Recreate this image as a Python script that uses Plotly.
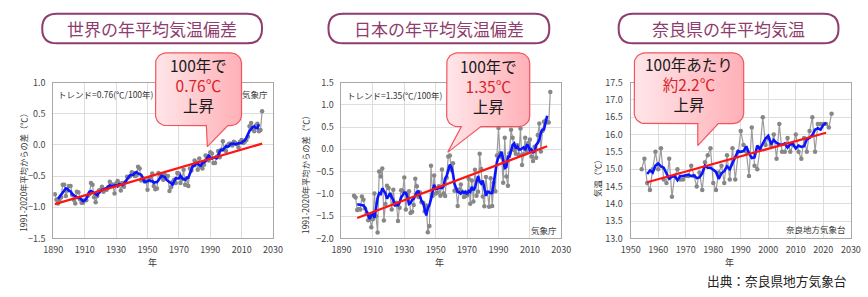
import math
import pandas as pd
import plotly.graph_objects as go

W, H = 868, 297

# ---------------- data ----------------
world_start = 1891
world_anom = [
    -0.79, -0.88, -0.94, -0.88, -0.84, -0.64, -0.64, -0.82, -0.73,            # 1891-1899
    -0.66, -0.66, -0.80, -0.88, -0.94, -0.75, -0.76, -0.87, -0.93, -0.93,     # 1900s
    -0.89, -0.89, -0.82, -0.79, -0.61, -0.64, -0.84, -0.92, -0.82, -0.73,     # 1910s
    -0.72, -0.67, -0.75, -0.72, -0.72, -0.68, -0.59, -0.63, -0.64, -0.78,     # 1920s
    -0.62, -0.58, -0.62, -0.73, -0.61, -0.67, -0.60, -0.51, -0.52, -0.50,     # 1930s
    -0.44, -0.46, -0.50, -0.49, -0.35, -0.38, -0.57, -0.54, -0.55, -0.59,     # 1940s
    -0.72, -0.54, -0.52, -0.46, -0.66, -0.71, -0.70, -0.45, -0.47, -0.51,     # 1950s
    -0.56, -0.48, -0.51, -0.50, -0.74, -0.68, -0.59, -0.56, -0.61, -0.45,     # 1960s
    -0.46, -0.61, -0.55, -0.40, -0.64, -0.54, -0.66, -0.38, -0.41, -0.33,     # 1970s
    -0.25, -0.28, -0.40, -0.22, -0.35, -0.38, -0.32, -0.17, -0.18, -0.25,     # 1980s
    -0.12, -0.14, -0.29, -0.29, -0.19, -0.10, -0.20, -0.08, 0.06, -0.08,      # 1990s
    -0.10, -0.01, 0.02, 0.02, -0.01, 0.05, 0.03, 0.01, -0.04, 0.05,           # 2000s
    0.08, 0.03, 0.05, 0.08, 0.13, 0.30, 0.35, 0.26, 0.22, 0.31,               # 2010s
    0.34, 0.22, 0.24, 0.54,                                                   # 2020s
]
world_trend_years = [1891, 2023]
world_trend = [-0.95, 0.02]

japan_start = 1898
japan_anom = [
    -1.04, -1.08,                                                             # 1898-1899
    -1.36, -1.34, -1.35, -1.06, -1.13, -1.33, -1.43, -1.59, -1.49, -1.75,     # 1900s
    -1.57, -0.99, -1.50, -1.87, -0.50, -0.61, -0.43, -1.60, -1.23, -0.82,     # 1910s
    -0.87, -1.01, -1.35, -0.91, -1.23, -1.20, -1.61, -1.31, -0.92, -0.93,     # 1920s
    -0.63, -1.35, -1.02, -0.94, -1.43, -1.40, -1.25, -0.66, -0.83, -1.07,     # 1930s
    -0.97, -1.19, -1.20, -1.39, -1.26, -1.86, -1.72, -0.37, -1.05, -0.59,     # 1940s
    -0.99, -0.97, -0.83, -1.04, -0.45, -0.99, -1.05, -0.64, -0.16, -0.14,     # 1950s
    -0.47, -0.31, -0.93, -0.91, -1.27, -0.90, -0.79, -0.95, -1.07, -1.05,     # 1960s
    -1.03, -0.66, -1.22, -0.70, -1.17, -0.46, -1.04, -0.95, -0.10, -0.44,     # 1970s
    -1.06, -1.28, -0.62, -0.96, -1.29, -0.65, -1.27, -0.75, -0.94, -0.14,     # 1980s
    0.48, -0.09, -0.18, -0.75, 0.26, -0.61, -0.82, -0.09, 0.44, 0.26,         # 1990s
    -0.02, -0.10, 0.09, -0.12, 0.47, -0.35, -0.11, 0.26, -0.04, 0.14,         # 2000s
    0.22, -0.16, -0.26, 0.06, -0.19, 0.32, 0.58, -0.05, 0.41, 0.62,           # 2010s
    0.65, 0.61, 0.60, 1.29,                                                   # 2020s
]
japan_trend_years = [1900, 2021]
japan_trend = [-1.54, 0.07]

nara_start = 1954
nara_temp = [
    15.0, 15.3, 14.6, 14.4, 15.0, 15.5,                                       # 1954-1959
    15.0, 15.6, 14.7, 14.6, 15.3, 14.2, 14.8, 15.0, 14.7, 14.7,               # 1960s
    14.8, 14.8, 15.1, 14.8, 14.5, 14.9, 14.4, 15.2, 15.4, 15.6,               # 1970s
    14.6, 14.4, 14.9, 15.1, 14.6, 15.4, 14.7, 15.6, 14.7, 15.5,               # 1980s
    16.1, 15.7, 15.5, 14.8, 16.2, 15.1, 15.0, 15.6, 16.5, 15.7,               # 1990s
    15.9, 15.7, 16.0, 15.3, 16.3, 15.5, 15.5, 15.9, 15.5, 15.7,               # 2000s
    16.0, 15.5, 15.3, 15.9, 15.5, 16.1, 16.5, 15.5, 16.3, 16.3,               # 2010s
    16.3, 16.3, 16.2, 16.6,                                                   # 2020s
]
nara_trend_years = [1956, 2021]
nara_trend = [14.62, 16.05]

titles = ["世界の年平均気温偏差", "日本の年平均気温偏差", "奈良県の年平均気温"]
callout_top = ["100年で", "100年で", "100年あたり"]
callout_mid = ["0.76℃", "1.35℃", "約2.2℃"]
callout_bot = ["上昇", "上昇", "上昇"]
trend_notes = ["トレンド=0.76(℃/100年)", "トレンド=1.35(℃/100年)", None]
y_titles = ["1991-2020年平均からの差（℃）", "1991-2020年平均からの差（℃）", "気温（℃）"]
x_title = "年"
credits = ["気象庁", "気象庁", "奈良地方気象台"]
source_text = "出典：奈良県地方気象台"

# ---------------- layout helpers ----------------
FONT = "Noto Sans CJK JP"
PLUM = "#8E3D6E"


def xdom(a, b):
    return [a / W, b / W]


def ydom(top, bottom):
    return [1 - bottom / H, 1 - top / H]


panels = [
    dict(xd=xdom(44.3, 269.3), yd=ydom(79, 242), xr=[1890, 2030], yr=[-1.5, 1.0], xdt=20),
    dict(xd=xdom(339.3, 564.3), yd=ydom(79, 242), xr=[1890, 2030], yr=[-2.0, 1.5], xdt=20),
    dict(xd=xdom(635.3, 860.7), yd=ydom(79, 242), xr=[1950, 2030], yr=[13.0, 17.5], xdt=10),
]

series = [
    (world_start, world_anom, world_trend_years, world_trend),
    (japan_start, japan_anom, japan_trend_years, japan_trend),
    (nara_start, nara_temp, nara_trend_years, nara_trend),
]

fig = go.Figure()

for i, (start, vals, ty, tv) in enumerate(series):
    years = list(range(start, start + len(vals)))
    smooth = pd.Series(vals).rolling(5, center=True).mean()
    xa = "x" if i == 0 else f"x{i+1}"
    ya = "y" if i == 0 else f"y{i+1}"
    fig.add_trace(go.Scatter(
        x=years, y=vals, mode="lines+markers", xaxis=xa, yaxis=ya,
        line=dict(color="#9C9C9C", width=1.2),
        marker=dict(color="#878787", size=4.5), showlegend=False, hoverinfo="skip"))
    fig.add_trace(go.Scatter(
        x=years, y=smooth, mode="lines", xaxis=xa, yaxis=ya,
        line=dict(color="#0A14FF", width=2.6), showlegend=False, hoverinfo="skip"))
    fig.add_trace(go.Scatter(
        x=ty, y=tv, mode="lines", xaxis=xa, yaxis=ya,
        line=dict(color="#FF1414", width=2.2), showlegend=False, hoverinfo="skip"))

axis_common = dict(showline=True, linecolor="#A8A8A8", linewidth=1, mirror=True,
                   showgrid=True, gridcolor="#DDDDDD", gridwidth=1, zeroline=False,
                   ticks="", tickfont=dict(family=FONT, size=9, color="#444444"),
                   fixedrange=True)

lay = {}
for i, p in enumerate(panels):
    sx = "xaxis" if i == 0 else f"xaxis{i+1}"
    sy = "yaxis" if i == 0 else f"yaxis{i+1}"
    anchor_x = "y" if i == 0 else f"y{i+1}"
    anchor_y = "x" if i == 0 else f"x{i+1}"
    lay[sx] = dict(axis_common, domain=p["xd"], range=p["xr"], dtick=p["xdt"],
                   tick0=p["xr"][0], anchor=anchor_x, ticklabelstandoff=3)
    lay[sy] = dict(axis_common, domain=p["yd"], range=p["yr"], dtick=0.5,
                   tickformat=".1f", anchor=anchor_y, ticklabelstandoff=5)

# overlay pixel-coordinate axes for decorations
lay["xaxis4"] = dict(domain=[0, 1], range=[0, W], visible=False, fixedrange=True, anchor="y4")
lay["yaxis4"] = dict(domain=[0, 1], range=[H, 0], visible=False, fixedrange=True, anchor="x4")

fig.update_layout(**lay)


def callout_path(x0, y0, x1, y1, r, bl, tipx, tipy, br):
    xs, ys = [], []

    def arc(cx, cy, a0, a1, n=8):
        for k in range(n + 1):
            t = math.radians(a0 + (a1 - a0) * k / n)
            xs.append(cx + r * math.cos(t))
            ys.append(cy + r * math.sin(t))

    arc(x1 - r, y0 + r, -90, 0)
    arc(x1 - r, y1 - r, 0, 90)
    xs += [br, tipx, bl]
    ys += [y1, tipy, y1]
    arc(x0 + r, y1 - r, 90, 180)
    arc(x0 + r, y0 + r, 180, 270)
    xs.append(xs[0])
    ys.append(ys[0])
    return xs, ys


callouts = [
    (149, 48, 237, 124, 11, 201, 202, 146, 223),
    (447, 48, 532, 125, 11, 462, 448, 152, 482),
    (639, 48, 751, 122, 11, 704, 704, 145, 725),
]
for c in callouts:
    cx, cy = callout_path(*c)
    fig.add_trace(go.Scatter(
        x=cx, y=cy, xaxis="x4", yaxis="y4", mode="lines", fill="toself",
        fillgradient=dict(type="horizontal",
                          colorscale=[[0, "#FFE6E9"], [1, "#FFB0B7"]]),
        line=dict(color="#F2545E", width=1.2), showlegend=False, hoverinfo="skip"))

# title boxes
title_boxes = [(33, 7, 258, 38), (326, 7, 552, 38), (623, 7, 848, 38)]
shapes = []
for (x0, y0, x1, y1) in title_boxes:
    r = 15
    path = (f"M {x0+r},{y0} L {x1-r},{y0} Q {x1},{y0} {x1},{y0+r} "
            f"L {x1},{y1-r} Q {x1},{y1} {x1-r},{y1} L {x0+r},{y1} "
            f"Q {x0},{y1} {x0},{y1-r} L {x0},{y0+r} Q {x0},{y0} {x0+r},{y0} Z")
    shapes.append(dict(type="path", path=path, xref="x4", yref="y4",
                       line=dict(color=PLUM, width=2), fillcolor="white", layer="above"))
fig.update_layout(shapes=shapes)

ann = []


def A(text, x, y, size, color="#333333", xanchor="center", yanchor="middle", angle=0, height=None):
    d = dict(text=text, x=x, y=y, xref="x4", yref="y4", showarrow=False,
             xanchor=xanchor, yanchor=yanchor, textangle=angle,
             font=dict(family=FONT, size=size, color=color), borderpad=0)
    if height is not None:
        d["height"] = height
    ann.append(d)


title_cx = [145.5, 439, 735.5]
for i in range(3):
    A(titles[i], title_cx[i], 22.5, 17, color=PLUM)

callout_cx = [193, 489.5, 695.5]
callout_cy = [82, 82.5, 81]
for i in range(3):
    txt = (f"{callout_top[i]}<br><span style='color:#D81E28'>{callout_mid[i]}</span>"
           f"<br>{callout_bot[i]}")
    A(txt, callout_cx[i], callout_cy[i], 15.5, color="#1A1A1A")

A(trend_notes[0], 48.5, 91, 8.5, xanchor="left")
A(trend_notes[1], 343.5, 92, 8.5, xanchor="left")
A(credits[0], 265, 91, 8.5, xanchor="right")
A(credits[1], 561, 233, 8.5, xanchor="right")
A(credits[2], 857, 232, 8.5, xanchor="right")

A(y_titles[0], 12.5, 171, 8.3, angle=-90)
A(y_titles[1], 302.5, 173, 8.3, angle=-90)
A(y_titles[2], 601.5, 177, 8.3, angle=-90)

for x in [146, 440, 736]:
    A(x_title, x, 267, 9)

A(source_text, 858, 286.5, 12.7, color="#222222", xanchor="right", height=15)

fig.update_layout(
    annotations=ann,
    width=W, height=H,
    margin=dict(l=0, r=0, t=0, b=0),
    paper_bgcolor="white", plot_bgcolor="rgba(0,0,0,0)",
    font=dict(family=FONT),
    showlegend=False,
)

fig.write_html("out.html", config={"displayModeBar": False},
               post_script="document.body.style.margin='0px';")
